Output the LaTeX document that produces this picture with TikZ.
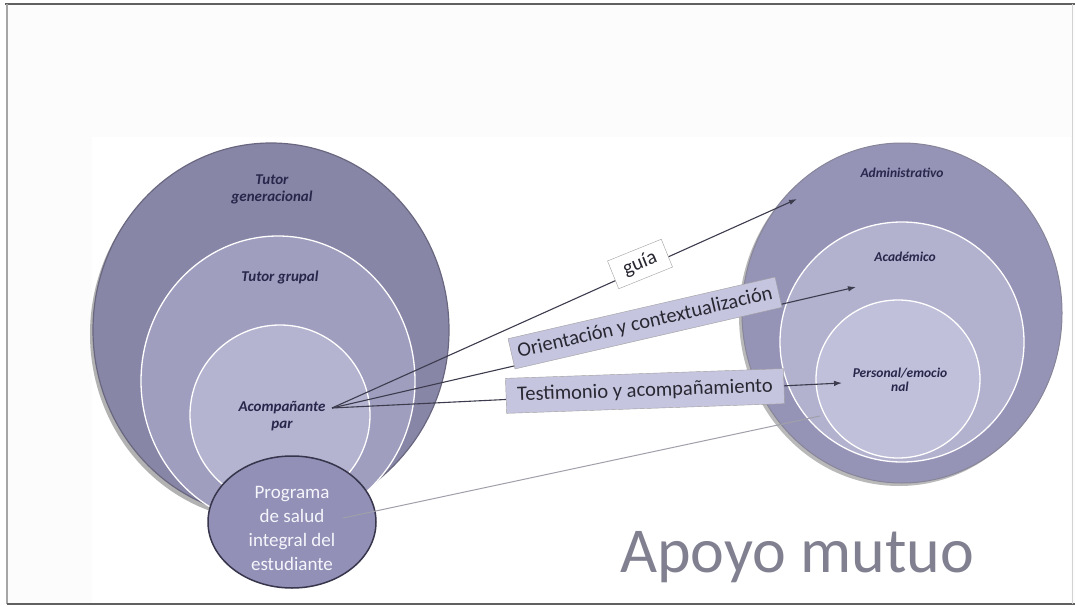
\documentclass[tikz,border=0pt]{standalone}
\usepackage{fontspec}
\newfontfamily\calfont{Carlito}
\usetikzlibrary{arrows.meta,shapes.geometric}
\definecolor{outerL}{RGB}{136,134,166}
\definecolor{midL}{RGB}{160,158,190}
\definecolor{innerL}{RGB}{180,179,208}
\definecolor{progC}{RGB}{146,144,182}
\definecolor{outerR}{RGB}{150,148,182}
\definecolor{midR}{RGB}{178,177,206}
\definecolor{innerR}{RGB}{192,192,218}
\definecolor{labtxt}{RGB}{40,38,75}
\definecolor{boxfill}{RGB}{198,197,224}
\definecolor{linec}{RGB}{60,60,78}
\definecolor{rimc}{RGB}{105,103,128}
\begin{document}
\begin{tikzpicture}[x=1pt,y=-1pt,
  blob/.style={ellipse, inner sep=0pt, outer sep=0pt},
  circlab/.style={font=\calfont\bfseries\itshape\fontsize{15}{17}\selectfont, text=labtxt, align=center, inner sep=0pt},
  rightlab/.style={font=\calfont\bfseries\itshape\fontsize{13.5}{14.5}\selectfont, text=labtxt, align=center, inner sep=0pt},
  linelab/.style={draw=gray!75, fill=boxfill, font=\calfont\fontsize{20.5}{22}\selectfont, text={rgb,255:red,40;green,40;blue,50}, inner sep=0pt},
  conn/.style={draw=linec, line width=1.1pt, -{Latex[length=8pt,width=5.5pt]}},
  progline/.style={draw={rgb,255:red,160;green,160;blue,170}, line width=1pt}]
\useasboundingbox (0,0) rectangle (1075,607);
\fill[white] (0,0) rectangle (1075,607);
\fill[gray!2] (7,4) rectangle (1075,604);
\fill[white] (92,137) rectangle (1071,603);
% frame
\draw[gray!75!black, line width=2pt] (5,4) -- (1075,4);
\draw[gray!70, line width=1.8pt] (7,4) -- (7,604);
\draw[gray!75!black, line width=1.8pt] (7,604) -- (1075,604);
\draw[gray!35, line width=0.8pt] (1072,4) -- (1072,604);

% left circles
\fill[gray!60] (268,334) ellipse [x radius=178pt, y radius=187pt];
\node[blob, fill=outerL, draw=rimc, line width=1.2pt, minimum width=356pt, minimum height=374pt] (tg) at (271,330) {};
\node[blob, fill=midL, draw=white, line width=1.3pt, minimum width=274pt, minimum height=290pt] (tgr) at (278,381) {};
\node[blob, fill=innerL, draw=white, line width=1.3pt, minimum width=180pt, minimum height=180pt] (ap) at (280,415) {};

\node[circlab] (tgl) at (272,189) {Tutor\\generacional};
\node[circlab] (tgrl) at (280,277) {Tutor grupal};
\node[circlab] (apl) at (282,416) {Acompañante\\par};

% right circles
\fill[gray!55] (899,316) ellipse [x radius=160pt, y radius=170pt];
\node[blob, fill=outerR, draw=rimc!80, line width=1pt, minimum width=320pt, minimum height=340pt] (adm) at (902,313) {};
\node[blob, fill=midR, draw=white, line width=1.3pt, minimum width=244pt, minimum height=240pt] (aca) at (902,342) {};
\node[blob, fill=innerR, draw=white, line width=1.3pt, minimum width=164pt, minimum height=158pt] (per) at (898,379) {};

\node[rightlab] (adml) at (902,173) {Administrativo};
\node[rightlab] (acal) at (905,257) {Académico};
\node[rightlab] (perl) at (900,380) {Personal/emocio\\nal};

% connector end points
\coordinate (fan) at (332,408);
\coordinate (tipA) at (797,199);
\coordinate (tipB) at (856,287);
\coordinate (tipC) at (842,383);

\draw[conn] (fan) -- (tipA);
\draw[conn] (fan) -- (tipB);
\draw[conn] (fan) -- (tipC);

% labels on connectors
\node[linelab, fill=white, rotate=22, minimum width=58pt, minimum height=30pt] (guia) at (640,264) {guía};
\node[linelab, rotate=13, minimum width=274pt, minimum height=31pt] (orient) at (645,323) {Orientación y contextualización};
\node[linelab, rotate=2, minimum width=278pt, minimum height=35pt] (testi) at (645,391) {Testimonio y acompañamiento};

% programa
\node[blob, fill=progC, draw={rgb,255:red,55;green,53;blue,75}, line width=1.5pt, minimum width=168pt, minimum height=132pt] (prog) at (292,522) {};
\coordinate (pstart) at (343,518);
\coordinate (pend) at (820,416);
\draw[progline] (pstart) -- (pend);
\node[font=\calfont\fontsize{19}{24}\selectfont, text={rgb,255:red,245;green,245;blue,252}, align=center, inner sep=0pt] (progl) at (292,528) {Programa\\de salud\\integral del\\estudiante};

% title
\node[anchor=base west, font=\calfont\fontsize{64}{64}\selectfont, text={rgb,255:red,128;green,128;blue,145}, inner sep=0pt] (apoyo) at (620,572) {Apoyo mutuo};
\end{tikzpicture}
\end{document}
